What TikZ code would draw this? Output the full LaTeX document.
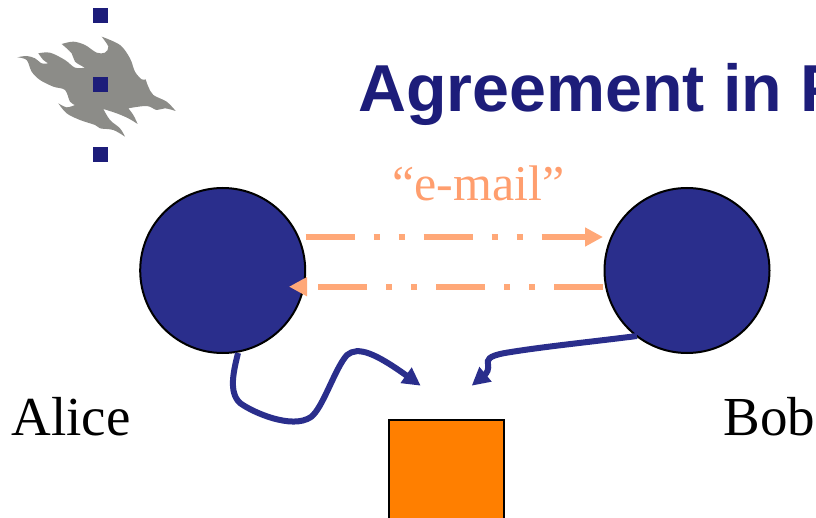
\documentclass[tikz,border=0pt]{standalone}
\usepackage{fontspec}
\setmainfont{Liberation Serif}
\setsansfont{Liberation Sans}
\usetikzlibrary{arrows.meta}
\definecolor{navy}{HTML}{2A2E8C}
\definecolor{deepnavy}{HTML}{1D1D7A}
\definecolor{peach}{HTML}{FFA878}
\definecolor{peachtext}{HTML}{FF9E6E}
\definecolor{boxorange}{HTML}{FF7F00}
\definecolor{flame}{HTML}{8C8C88}
\tikzset{
  x=1pt,y=-1pt,
  party/.style={circle,draw=black,line width=2pt,fill=navy,minimum size=165pt,inner sep=0pt,outer sep=0pt},
  mail/.style={peach,line width=6pt,dash pattern=on 49pt off 19pt on 6pt off 19pt on 6pt off 19pt,-{Triangle[length=18pt,width=18pt]}},
  keyflow/.style={navy,line width=6pt,-{Triangle[length=18pt,width=18pt]}},
  logosq/.style={fill=deepnavy,draw=none,minimum size=15pt,inner sep=0pt,outer sep=0pt,rectangle},
  person/.style={font=\fontsize{55pt}{55pt}\selectfont,anchor=base west,inner sep=0pt},
  lobe/.style={smooth,tension=0.55},
}
\begin{document}
\begin{tikzpicture}
\useasboundingbox (0,0) rectangle (816,518);
\clip (0,0) rectangle (816,518);
% logo flame (traced on a 3x grid)
\begin{scope}[shift={(10,30)},x=0.33333pt,y=-0.33333pt]
\fill[flame]
 plot[lobe] coordinates {(22,82) (50,78) (75,85) (95,100) (115,100)}
 -- plot[lobe] coordinates {(115,100) (100,90) (85,70)}
 -- plot[lobe] coordinates {(85,70) (120,68) (165,90) (195,113) (225,113)}
 -- plot[lobe] coordinates {(225,113) (195,95) (185,70) (155,42)}
 -- plot[lobe] coordinates {(155,42) (190,35) (225,45) (260,68) (285,68) (295,50) (275,20)}
 -- plot[lobe] coordinates {(275,20) (330,45) (360,85) (375,125) (395,148) (407,148)}
 -- plot[lobe] coordinates {(407,148) (415,170) (430,195) (470,215) (497,243)}
 -- plot[lobe] coordinates {(497,243) (465,235) (440,240) (410,228) (355,235)}
 -- plot[lobe] coordinates {(355,235) (370,255) (383,282)}
 -- plot[lobe] coordinates {(383,282) (355,265) (320,250) (280,237)}
 -- plot[lobe] coordinates {(280,237) (300,270) (330,295) (345,320)}
 -- plot[lobe] coordinates {(345,320) (310,300) (270,295) (255,285) (210,270) (170,250) (145,220)}
 -- plot[lobe] coordinates {(145,220) (170,232) (195,225)}
 -- plot[lobe] coordinates {(195,225) (180,215) (165,180) (130,170) (90,150) (65,125) (50,90) (22,82)}
 -- cycle;
\end{scope}
\node[logosq] (sqa) at (100.5,16) {};
\node[logosq] (sqb) at (100.5,85) {};
\node[logosq] (sqc) at (100.5,154.5) {};
% title
\node[font=\sffamily\bfseries\fontsize{66.4pt}{66.4pt}\selectfont,text=deepnavy,anchor=base west,inner sep=0pt] (title) at (358,111.7) {Agreement in P};
% parties
\node[party] (alice) at (222.7,270.5) {};
\node[party] (bob) at (687,270.5) {};
\node[person] (alicelabel) at (11.5,435) {Alice};
\node[person] (boblabel) at (723.5,435) {Bob};
\node[font=\fontsize{50pt}{50pt}\selectfont,text=peachtext,anchor=base west,inner sep=0pt] (email) at (392,201) {“e-mail”};
% shared key box
\node[rectangle,draw=black,line width=2pt,fill=boxorange,anchor=north west,minimum width=115.6pt,minimum height=130pt,inner sep=0pt,outer sep=0pt] (keybox) at (388.7,419.7) {};
% mail arrows
\coordinate (ainR) at (289,286.7);
\coordinate (aoutR) at (305.7,237);
\coordinate (binL) at (603,237);
\coordinate (boutL) at (603,286.7);
\draw[mail] (aoutR) -- (binL);
\draw[mail] (boutL) -- (ainR);
% key flows
\coordinate (fromA) at (238,353);
\coordinate (fromB) at (637,336);
\coordinate (tipA) at (420.7,385.7);
\coordinate (tipB) at (471.7,385.7);
\draw[keyflow] (fromA) .. controls (234,370) and (228,392) .. (240,403)
 .. controls (252,412) and (292,430) .. (311,417)
 .. controls (323,408) and (335,368) .. (347,355)
 .. controls (358,346) and (375,353) .. (tipA);
\draw[keyflow] (fromB) .. controls (590,342) and (540,347) .. (505,353)
 .. controls (488,356) and (487,360) .. (488,364)
 .. controls (489,369) and (487,373) .. (tipB);
\end{tikzpicture}
\end{document}
